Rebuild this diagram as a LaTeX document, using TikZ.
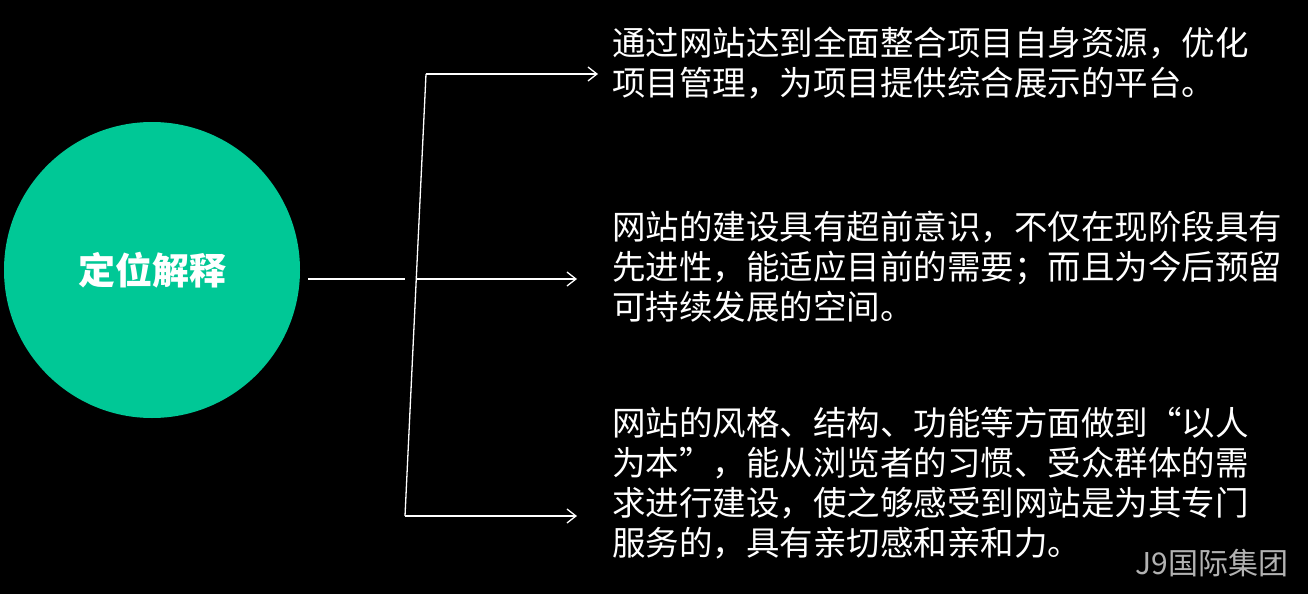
\documentclass[tikz,border=0pt]{standalone}
\usepackage{fontspec}
\setmainfont{Noto Sans CJK SC}
\usetikzlibrary{arrows.meta}
\definecolor{teal}{HTML}{00C896}
\begin{document}
\begin{tikzpicture}[x=1pt,y=-1pt,
  txt/.style={text=white,font=\fontsize{33.5}{40}\selectfont,anchor=north west,align=left,inner sep=0pt},
  ln/.style={draw=white,line width=1.3pt},
  arr/.style={ln,-{Straight Barb[length=9pt,width=14pt]}}]
\fill[black] (0,0) rectangle (1308,594);
\useasboundingbox (0,0) rectangle (1308,594);
\node[circle,fill=teal,minimum size=296pt,inner sep=0pt,text=white,font=\bfseries\fontsize{37}{40}\selectfont] (c) at (152,270) {定位解释};
\coordinate (s) at (308,279);
\coordinate (m) at (405,279);
\coordinate (mr) at (416,279);
\coordinate (t) at (426,74);
\coordinate (b) at (405,516);
\node[txt] (t1) at (612,27) {通过网站达到全面整合项目自身资源，优化\\项目管理，为项目提供综合展示的平台。};
\node[txt] (t2) at (612,211) {网站的建设具有超前意识，不仅在现阶段具有\\先进性，能适应目前的需要；而且为今后预留\\可持续发展的空间。};
\node[txt] (t3) at (612,407) {网站的风格、结构、功能等方面做到“以人\\为本”，能从浏览者的习惯、受众群体的需\\求进行建设，使之够感受到网站是为其专门\\服务的，具有亲切感和亲和力。};
\coordinate (a1) at (598,74);
\coordinate (a2) at (577,279);
\coordinate (a3) at (577,516);
\draw[ln] (s) -- (m);
\draw[ln] (b) -- (t);
\draw[arr] (t) -- (a1);
\draw[arr] (mr) -- (a2);
\draw[arr] (b) -- (a3);
\node[text=gray!60,font=\fontsize{30}{32}\selectfont,anchor=east] (w) at (1292,563) {J9国际集团};
\end{tikzpicture}
\end{document}
